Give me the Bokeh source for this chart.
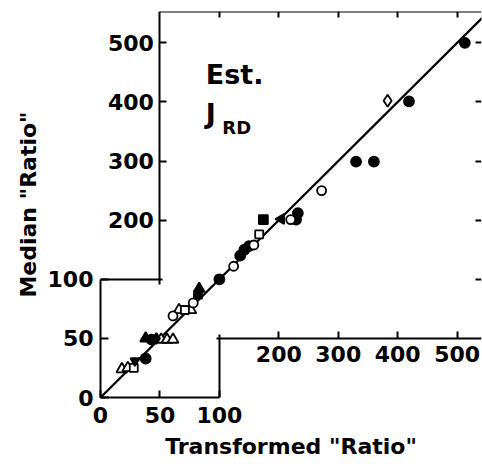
import math
from bokeh.plotting import figure
from bokeh.models import Range1d, LinearAxis, FixedTicker, Label, Title
from bokeh.embed import file_html
from bokeh.resources import INLINE

FONT = "DejaVu Sans"

# ---------------- data ----------------
# Inset (magnified 0-100 region): Transformed "Ratio" (x) vs Median "Ratio" (y)
inset_open_tri_x = [18, 23, 51, 56, 61, 66, 76]
inset_open_tri_y = [24, 25, 49, 49, 49, 74, 74]
inset_open_sq_x = [28, 71]
inset_open_sq_y = [25, 74]
inset_open_circ_x = [61, 78]
inset_open_circ_y = [69, 80]
inset_inv_tri_x = [29]
inset_inv_tri_y = [31]
inset_fill_circ_x = [38, 43]
inset_fill_circ_y = [33, 49]
inset_fill_tri_x = [38, 83]
inset_fill_tri_y = [50, 92]
inset_fill_dia_x = [47]
inset_fill_dia_y = [50]
inset_fill_sq_x = [82]
inset_fill_sq_y = [87]

# Main panel
main_fill_circ_x = [100, 135, 142, 150, 229, 232, 330, 360, 419, 513]
main_fill_circ_y = [100, 140, 150, 156, 201, 212, 299, 299, 401, 500]
main_open_circ_x = [124, 158, 220, 272]
main_open_circ_y = [122, 158, 201, 250]
main_open_sq_x = [167]
main_open_sq_y = [176]
main_fill_sq_x = [174]
main_fill_sq_y = [201]
main_left_tri_x = [204]
main_left_tri_y = [202]
main_open_dia_x = [383]
main_open_dia_y = [402]

# identity line (y = x)
inset_line = [0, 100]
main_line = [100, 550]

main_ticks = [100, 200, 300, 400, 500]
main_labelled_ticks = [200, 300, 400, 500]
inset_ticks = [0, 50, 100]

x_title = 'Transformed "Ratio"'
y_title = 'Median "Ratio"'

# ---------------- figure ----------------
X0, X1 = -100, 541
Y0, Y1 = -100, 553
p = figure(width=482, height=467,
           x_range=Range1d(X0, X1), y_range=Range1d(Y0, Y1),
           x_axis_location=None, y_axis_location=None,
           output_backend="svg", toolbar_location=None,
           min_border_left=100, min_border_right=1,
           min_border_top=11, min_border_bottom=70)
p.outline_line_color = None
p.grid.grid_line_color = None
p.background_fill_color = "white"
p.border_fill_color = "white"

# inset coordinates = 2x magnification: main = 2*inset - 100
p.extra_x_ranges = {"inset": Range1d((X0 + 100) / 2, (X1 + 100) / 2)}
p.extra_y_ranges = {"inset": Range1d((Y0 + 100) / 2, (Y1 + 100) / 2)}


def style_axis(ax, tick_in, standoff=6):
    ax.axis_line_width = 2
    ax.axis_line_color = "black"
    ax.major_tick_line_width = 2
    ax.major_tick_in = tick_in
    ax.major_tick_out = 0
    ax.minor_tick_line_color = None
    ax.major_label_standoff = standoff
    ax.major_label_text_font = FONT
    ax.major_label_text_font_size = "22px"
    ax.major_label_text_font_style = "bold"
    ax.major_label_text_color = "black"
    return ax


def blank(ticks):
    return {t: "" for t in ticks}


# inset axes (frame left/bottom)
ax = style_axis(LinearAxis(y_range_name="inset", bounds=(0, 100),
                           ticker=FixedTicker(ticks=inset_ticks)), 8, standoff=7)
p.add_layout(ax, "left")
ax = style_axis(LinearAxis(x_range_name="inset", bounds=(0, 100),
                           ticker=FixedTicker(ticks=inset_ticks)), 7, standoff=9)
p.add_layout(ax, "below")
# inset top and right borders
ax = style_axis(LinearAxis(x_range_name="inset", y_range_name="inset", fixed_location=100,
                           bounds=(0, 52), ticker=FixedTicker(ticks=[])), 0)
p.add_layout(ax, "above")
ax = style_axis(LinearAxis(x_range_name="inset", y_range_name="inset", fixed_location=100,
                           bounds=(0, 53), ticker=FixedTicker(ticks=[])), 0)
p.add_layout(ax, "right")

# main axes (inside the frame)
ax = style_axis(LinearAxis(fixed_location=0, bounds=(92, Y1),
                           ticker=FixedTicker(ticks=main_labelled_ticks)), 7, standoff=6)
p.add_layout(ax, "left")
ax = style_axis(LinearAxis(fixed_location=0, bounds=(95, X1),
                           ticker=FixedTicker(ticks=main_labelled_ticks)), 7, standoff=8)
p.add_layout(ax, "below")
ax = style_axis(LinearAxis(fixed_location=Y1, bounds=(0, X1),
                           ticker=FixedTicker(ticks=main_ticks),
                           major_label_overrides=blank(main_ticks)), 6)
p.add_layout(ax, "above")
ax = style_axis(LinearAxis(fixed_location=X1, bounds=(0, Y1),
                           ticker=FixedTicker(ticks=main_ticks),
                           major_label_overrides=blank(main_ticks)), 6)
ax.axis_line_color = None
p.add_layout(ax, "right")

# axis titles (side titles centred on the frame)
p.add_layout(Title(text=y_title, align="center", text_font=FONT, text_font_size="22px",
                   text_font_style="bold", text_color="black", standoff=8), "left")
p.add_layout(Title(text=x_title, align="center", text_font=FONT, text_font_size="22px",
                   text_font_style="bold", text_color="black", standoff=13), "below")

# identity lines
p.line(inset_line, inset_line, x_range_name="inset", y_range_name="inset",
       line_color="black", line_width=2.3)
p.line(main_line, main_line, line_color="black", line_width=2.3)

# markers
def pts(x, y, marker, filled, size=10, inset=False, angle=0.0):
    kw = dict(x_range_name="inset", y_range_name="inset") if inset else {}
    p.scatter(x, y, marker=marker, size=size, angle=angle,
              fill_color="black" if filled else "white",
              line_color="black", line_width=1.8, **kw)

pts(inset_open_tri_x, inset_open_tri_y, "triangle", False, 11, True)
pts(inset_open_sq_x, inset_open_sq_y, "square", False, 8, True)
pts(inset_open_circ_x, inset_open_circ_y, "circle", False, 9, True)
pts(inset_inv_tri_x, inset_inv_tri_y, "inverted_triangle", True, 9, True)
pts(inset_fill_circ_x, inset_fill_circ_y, "circle", True, 10, True)
pts(inset_fill_tri_x, inset_fill_tri_y, "triangle", True, 11, True)
pts(inset_fill_dia_x, inset_fill_dia_y, "diamond", True, 11, True)
pts(inset_fill_sq_x, inset_fill_sq_y, "square", True, 8, True)

pts(main_fill_circ_x, main_fill_circ_y, "circle", True, 10)
pts(main_open_circ_x, main_open_circ_y, "circle", False, 9)
pts(main_open_sq_x, main_open_sq_y, "square", False, 8)
pts(main_fill_sq_x, main_fill_sq_y, "square", True, 9)
pts(main_left_tri_x, main_left_tri_y, "triangle", True, 10, angle=math.pi / 2)
pts(main_open_dia_x, main_open_dia_y, "diamond", False, 12)

# in-plot annotation
p.add_layout(Label(x=77, y=447, text="Est.", text_align="left", text_baseline="alphabetic",
                   text_font=FONT, text_font_size="27px", text_font_style="bold",
                   text_color="black"))
p.add_layout(Label(x=77, y=380, text="J", text_align="left", text_baseline="alphabetic",
                   text_font=FONT, text_font_size="27px", text_font_style="bold",
                   text_color="black"))
p.add_layout(Label(x=105, y=356, text="RD", text_align="left", text_baseline="alphabetic",
                   text_font=FONT, text_font_size="18px", text_font_style="bold",
                   text_color="black"))

open("out.html", "w").write(file_html(p, INLINE))
